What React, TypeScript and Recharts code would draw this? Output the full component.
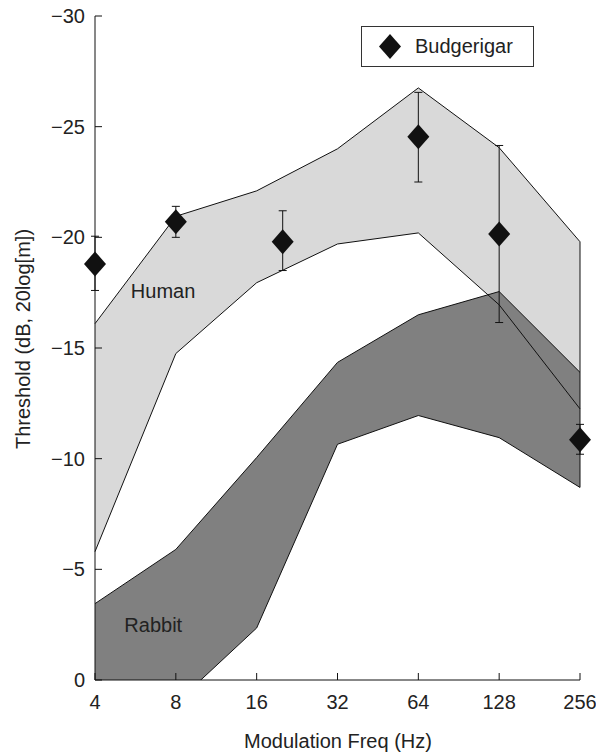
import React from 'react';
import {
  ComposedChart,
  Area,
  Line,
  Scatter,
  XAxis,
  YAxis,
  ErrorBar,
  ReferenceLine,
  ReferenceDot,
  Legend,
} from 'recharts';

// Modulation frequencies (Hz) of the shaded bands
const freqs = [4, 8, 16, 32, 64, 128, 256];
// Human band edges (dB)
const humanUpper = [-16.1, -20.95, -22.1, -24.0, -26.75, -24.05, -19.8];
const humanLower = [-5.8, -14.75, -17.95, -19.7, -20.2, -16.95, -12.25];
// Rabbit band edges (dB)
const rabbitUpper = [-3.45, -5.9, -10.05, -14.35, -16.5, -17.55, -13.9];
const rabbitLower = [4.5, 1.05, -2.35, -10.65, -11.95, -10.95, -8.7];

// Budgerigar points with error ranges
const budgieFreqs = [4, 8, 20, 64, 128, 256];
const budgieMean = [-18.8, -20.7, -19.8, -24.55, -20.15, -10.85];
const budgieMin = [-20.05, -21.4, -21.2, -26.55, -24.15, -11.55];
const budgieMax = [-17.6, -20.0, -18.5, -22.5, -16.15, -10.2];

// Axis ticks
const xTicks = [4, 8, 16, 32, 64, 128, 256];
const yTicks = [-30, -25, -20, -15, -10, -5, 0];

// Band name annotations [freq, dB]
const humanLabelAt = [7.17, -17.6];
const rabbitLabelAt = [6.59, -2.5];

const bandRows = freqs.map((f, i) => ({
  f,
  hU: humanUpper[i],
  hL: humanLower[i],
  rU: rabbitUpper[i],
  rL: rabbitLower[i],
  human: [humanLower[i], humanUpper[i]],
  rabbit: [rabbitLower[i], rabbitUpper[i]],
}));

const budgieRows = budgieFreqs.map((f, i) => ({
  f,
  y: budgieMean[i],
  err: [budgieMean[i] - budgieMin[i], budgieMax[i] - budgieMean[i]],
}));

const FONT = '"Liberation Sans", Arial, Helvetica, sans-serif';
const TXT = '#222';
const INK = '#111';

const Diamond = (props: any) => {
  const { cx, cy } = props;
  if (cx == null || cy == null) return null;
  return (
    <path
      d={`M${cx},${cy - 12.5}L${cx + 11},${cy}L${cx},${cy + 12.5}L${cx - 11},${cy}Z`}
      fill={INK}
    />
  );
};

const fmtY = (v: number) => (v < 0 ? '\u2212' + Math.abs(v) : String(v));

const LegendBox = () => (
  <div
    style={{
      boxSizing: 'border-box',
      width: 173,
      height: 41,
      border: '1px solid #333',
      background: '#fff',
      display: 'flex',
      alignItems: 'center',
      fontFamily: FONT,
      fontSize: 20,
      color: TXT,
    }}
  >
    <svg width={22} height={25} style={{ marginLeft: 17, display: 'block' }}>
      <path d="M11,0L22,12.5L11,25L0,12.5Z" fill={INK} />
    </svg>
    <span style={{ marginLeft: 14 }}>Budgerigar</span>
  </div>
);

export default function App() {
  return (
    <ComposedChart
      width={596}
      height={748}
      data={bandRows}
      margin={{ top: 8, right: 24, bottom: 46, left: 0 }}
      style={{ fontFamily: FONT }}
    >
      <XAxis
        dataKey="f"
        type="number"
        scale="log"
        domain={[4, 256]}
        ticks={xTicks}
        interval={0}
        height={30}
        tickSize={-7}
        tickMargin={22}
        tick={{ fontSize: 20, fill: TXT, fontFamily: FONT }}
        axisLine={{ stroke: INK }}
        tickLine={{ stroke: INK }}
        label={{
          content: () => (
            <text
              x={330}
              y={740}
              textAnchor="middle"
              fontSize={20}
              fill={TXT}
              fontFamily={FONT}
            >
              Modulation Freq (Hz)
            </text>
          ),
        }}
      />
      <YAxis
        type="number"
        domain={[-30, 0]}
        reversed
        ticks={yTicks}
        interval={0}
        width={87}
        tickSize={-7}
        tickMargin={17}
        tickFormatter={fmtY}
        tick={{ fontSize: 20, fill: TXT, fontFamily: FONT }}
        axisLine={{ stroke: INK }}
        tickLine={{ stroke: INK }}
        label={{
          content: () => (
            <text
              x={15}
              y={331}
              transform="rotate(-90 15 331)"
              textAnchor="middle"
              dominantBaseline="central"
              fontSize={20}
              fill={TXT}
              fontFamily={FONT}
            >
              Threshold (dB, 20log[m])
            </text>
          ),
        }}
      />
      <YAxis yAxisId="band" type="number" domain={[-30, 0]} reversed hide allowDataOverflow />

      <Area
        yAxisId="band"
        type="linear"
        dataKey="human"
        fill="#d9d9d9"
        fillOpacity={1}
        stroke="none"
        isAnimationActive={false}
        legendType="none"
      />
      <Area
        yAxisId="band"
        type="linear"
        dataKey="rabbit"
        fill="#808080"
        fillOpacity={1}
        stroke="none"
        isAnimationActive={false}
        legendType="none"
      />
      <Line yAxisId="band" type="linear" dataKey="hU" stroke={INK} strokeWidth={1} dot={false} isAnimationActive={false} legendType="none" />
      <Line yAxisId="band" type="linear" dataKey="hL" stroke={INK} strokeWidth={1} dot={false} isAnimationActive={false} legendType="none" />
      <Line yAxisId="band" type="linear" dataKey="rU" stroke={INK} strokeWidth={1} dot={false} isAnimationActive={false} legendType="none" />
      <Line yAxisId="band" type="linear" dataKey="rL" stroke={INK} strokeWidth={1} dot={false} isAnimationActive={false} legendType="none" />
      <ReferenceLine
        yAxisId="band"
        segment={[
          { x: freqs[freqs.length - 1], y: humanUpper[humanUpper.length - 1] },
          { x: freqs[freqs.length - 1], y: rabbitLower[rabbitLower.length - 1] },
        ]}
        stroke={INK}
        strokeWidth={1}
      />

      <Scatter
        name="Budgerigar"
        data={budgieRows}
        dataKey="y"
        shape={Diamond}
        isAnimationActive={false}
      >
        <ErrorBar dataKey="err" direction="y" width={4} stroke={INK} strokeWidth={1} isAnimationActive={false} />
      </Scatter>

      <ReferenceDot
        x={humanLabelAt[0]}
        y={humanLabelAt[1]}
        r={0}
        fill="none"
        stroke="none"
        label={{ value: 'Human', position: 'center', fontSize: 20, fill: TXT, fontFamily: FONT }}
      />
      <ReferenceDot
        x={rabbitLabelAt[0]}
        y={rabbitLabelAt[1]}
        r={0}
        fill="none"
        stroke="none"
        label={{ value: 'Rabbit', position: 'center', fontSize: 20, fill: TXT, fontFamily: FONT }}
      />

      <Legend
        layout="vertical"
        align="center"
        verticalAlign="middle"
        wrapperStyle={{ top: 18, left: 353, width: 173, height: 41 }}
        content={() => <LegendBox />}
      />
    </ComposedChart>
  );
}
